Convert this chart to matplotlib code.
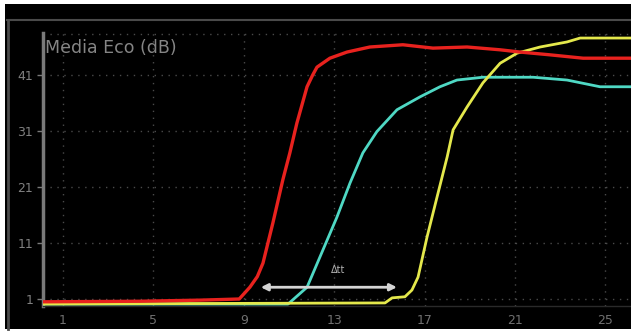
import matplotlib.pyplot as plt
from matplotlib.lines import Line2D
from matplotlib.patches import Rectangle

# Echo intensity curves (dB) vs time
red_x = [0.12, 4.4, 7.1, 8.8, 9.27, 9.6, 9.85, 10.29, 10.73, 11.04, 11.35, 11.80, 12.05,
         12.24, 12.81, 13.57, 14.58, 16.04, 17.37, 18.88, 20.34, 21.22, 22.55, 24.01, 26.1]
red_y = [0.5, 0.6, 0.8, 1.0, 3.1, 5.0, 7.4, 14.6, 22.3, 27.1, 32.4, 38.9, 41.0,
         42.4, 44.0, 45.1, 46.0, 46.4, 45.8, 46.0, 45.5, 45.1, 44.6, 44.0, 44.0]

cyan_x = [0.12, 10.96, 11.80, 12.37, 13.12, 13.70, 14.27, 14.89, 15.78, 16.80,
          17.68, 18.43, 19.58, 21.80, 23.30, 24.76, 26.1]
cyan_y = [0.1, 0.1, 3.1, 8.5, 15.6, 21.7, 27.1, 30.9, 34.8, 37.1,
          38.9, 40.1, 40.6, 40.6, 40.1, 38.9, 38.9]

yellow_x = [0.12, 15.25, 15.56, 16.13, 16.44, 16.71, 17.11, 17.55, 18.0, 18.26,
            18.88, 19.58, 20.34, 21.09, 22.11, 23.30, 23.88, 26.1]
yellow_y = [0.1, 0.3, 1.2, 1.4, 2.6, 4.9, 12.1, 19.2, 26.4, 31.2,
            35.3, 39.6, 43.1, 44.9, 46.0, 46.9, 47.6, 47.6]

x_ticks = [1, 5, 9, 13, 17, 21, 25]
y_ticks = [1, 11, 21, 31, 41]

arrow_x = [9.63, 15.9]
arrow_y = 3.1

W, H = 631, 334
fig = plt.figure(figsize=(W / 100, H / 100), dpi=100, facecolor="white")

# dark monitor panel with grey frame
fig.add_artist(Rectangle((5 / W, 5 / H), 1 - 5 / W, 325 / H,
                         transform=fig.transFigure, facecolor="black",
                         edgecolor="none", zorder=-5))
fig.add_artist(Line2D([7 / W, 1], [1 - 20 / H, 1 - 20 / H], transform=fig.transFigure,
                      color="#4a4a4a", lw=1.5, zorder=-4))
fig.add_artist(Line2D([8 / W, 8 / W], [5 / H, 1 - 20 / H], transform=fig.transFigure,
                      color="#4a4a4a", lw=2, zorder=-4))

ax = fig.add_axes([43 / W, (H - 306) / H, (W - 43) / W, (306 - 33) / H])
ax.set_facecolor("black")
ax.set_xlim(0.12, 26.13)
ax.set_ylim(-0.25, 48.5)

for s in ["top", "right"]:
    ax.spines[s].set_visible(False)
ax.spines["left"].set_color("#7a7a7a")
ax.spines["left"].set_linewidth(2.5)
ax.spines["bottom"].set_color("#2a2a2a")
ax.spines["bottom"].set_linewidth(1)

ax.set_xticks(x_ticks)
ax.set_yticks(y_ticks)
ax.tick_params(axis="x", length=0, pad=6, labelsize=9, labelcolor="#707070")
ax.tick_params(axis="y", length=4, width=1, color="#7a7a7a", pad=3,
               labelsize=9, labelcolor="#808080")
ax.grid(True, ls=(0, (1, 4)), color="#4a4a4a", lw=1)
ax.axhline(48.3, ls=(0, (1, 4)), color="#4a4a4a", lw=1)

ax.plot(cyan_x, cyan_y, color="#4fd8c4", lw=2, zorder=3)
ax.plot(yellow_x, yellow_y, color="#e4e84c", lw=2, zorder=4)
ax.plot(red_x, red_y, color="#e8221e", lw=2.4, zorder=5)

ax.annotate("", xy=(arrow_x[1], arrow_y), xytext=(arrow_x[0], arrow_y),
            arrowprops=dict(arrowstyle="<|-|>", color="#d4d4d4", lw=2,
                            mutation_scale=10), zorder=6)
ax.text(sum(arrow_x) / 2 + 0.4, arrow_y + 3.1, "Δtt", color="#b0b0b0",
        fontsize=7, ha="center", va="center", zorder=6)

ax.text(0.004, 0.945, "Media Eco (dB)", transform=ax.transAxes, color="#858585",
        fontsize=12.5, ha="left", va="center")

fig.savefig("out.png", dpi=100, facecolor="white")
